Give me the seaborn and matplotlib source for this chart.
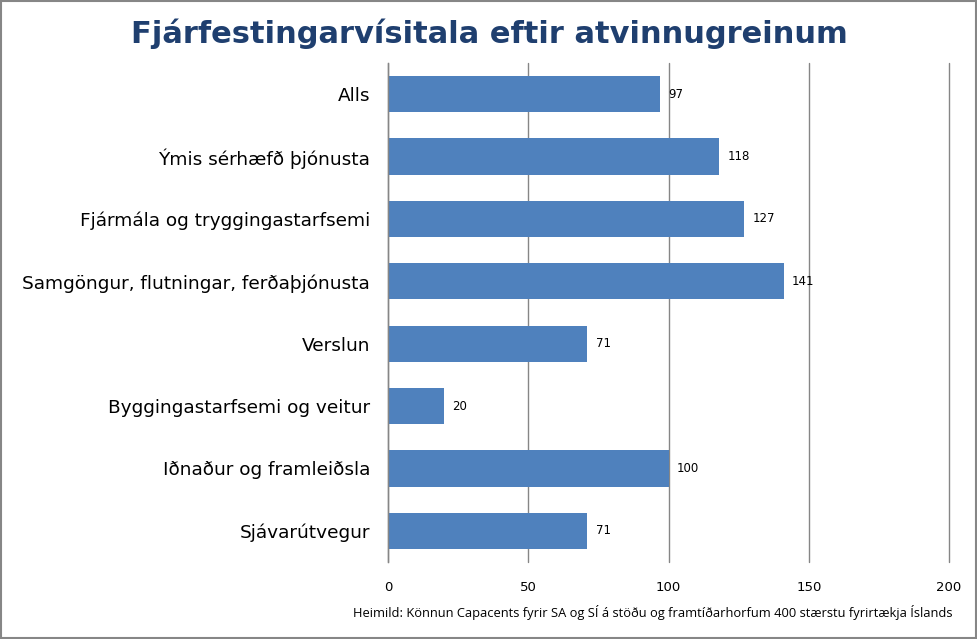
import matplotlib
matplotlib.use('Agg')
import matplotlib.pyplot as plt
import seaborn as sns
import pandas as pd

# ── Gögn ──────────────────────────────────────────────────────────────────
categories = ['Alls', 'Ýmis sérhæfð þjónusta', 'Fjármála og tryggingastarfsemi',
              'Samgöngur, flutningar, ferðaþjónusta', 'Verslun',
              'Byggingastarfsemi og veitur', 'Iðnaður og framleiðsla', 'Sjávarútvegur']
values = [97, 118, 127, 141, 71, 20, 100, 71]
x_ticks = [0, 50, 100, 150, 200]

TITLE = 'Fjárfestingarvísitala eftir atvinnugreinum'
SOURCE = 'Heimild: Könnun Capacents fyrir SA og SÍ á stöðu og framtíðarhorfum 400 stærstu fyrirtækja Íslands'

df = pd.DataFrame({'cat': categories, 'val': values})

sns.set_style('white')
plt.rcParams['font.family'] = ['DejaVu Sans']
plt.rcParams['text.color'] = 'black'
plt.rcParams['xtick.color'] = 'black'
plt.rcParams['ytick.color'] = 'black'

fig = plt.figure(figsize=(9.78, 6.39), dpi=100)
ax = fig.add_axes([388 / 978, 1 - 562 / 639, (949 - 388) / 978, (562 - 63) / 639])

sns.barplot(data=df, x='val', y='cat', color='#4F81BD', saturation=1,
            width=0.58, ax=ax, orient='h', edgecolor='none')

ax.set_xlim(0, 200)
ax.set_xticks(x_ticks)
ax.set_xticklabels([str(t) for t in x_ticks], fontsize=9.5)
ax.tick_params(axis='x', length=4, color='#868686', pad=10, direction='out')
ax.tick_params(axis='y', length=0, labelsize=13.3, pad=13)
ax.grid(axis='x', color='#868686', linewidth=1)
for gl in ax.get_xgridlines():
    gl.set_clip_on(False)
ax.set_axisbelow(True)
for s in ['top', 'right', 'bottom']:
    ax.spines[s].set_visible(False)
ax.spines['left'].set_color('#868686')
ax.spines['left'].set_linewidth(1)
ax.set_xlabel('')
ax.set_ylabel('')

for i, v in enumerate(values):
    ax.text(v + 3, i, str(v), va='center', ha='left', fontsize=8.5, color='black')

fig.text(0.5, 1 - 34 / 639, TITLE, ha='center', va='center', fontsize=22,
         fontweight='bold', color='#1F3F6F')
fig.text(953 / 978, 1 - 613 / 639, SOURCE, ha='right', va='center',
         fontsize=9.3, family=['Open Sans', 'DejaVu Sans'], color='black')

# ytri rammi
border = plt.Rectangle((0.001, 0.001), 0.997, 0.997, transform=fig.transFigure,
                       fill=False, edgecolor='#868686', linewidth=1.5)
fig.patches.append(border)

fig.savefig('out.png', dpi=100)
plt.close(fig)
